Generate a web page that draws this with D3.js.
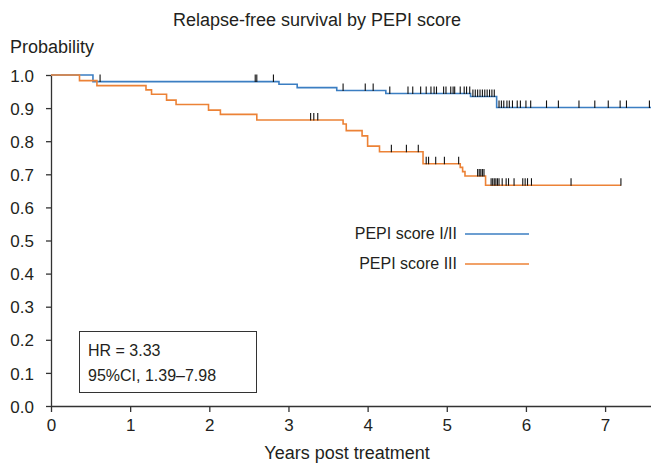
<!DOCTYPE html>
<html>
<head>
<meta charset="utf-8">
<script src="https://cdn.jsdelivr.net/npm/d3@7"></script>
<style>
  body { margin: 0; background: #fff; }
  #screen text { font-family: "Liberation Sans", Arial, sans-serif; fill: #231f20; }
</style>
</head>
<body>
<div id="screen"></div>
<script>
// KM curves: event times (years) and survival after each step
const groupNames = ["PEPI score I/II", "PEPI score III"];
const groupColors = ["#3b7ec2", "#ec8236"];

const blueTimes = [0, 0.53, 2.88, 3.11, 3.61, 4.23, 5.30, 5.63, 7.58];
const blueSurv  = [1, 0.980, 0.972, 0.962, 0.953, 0.944, 0.935, 0.902, 0.902];
const blueCensor = [0.62, 2.58, 2.60, 2.81, 3.69, 3.97, 4.07, 4.28, 4.51, 4.57, 4.67, 4.74, 4.80,
    4.84, 4.87, 4.96, 4.99, 5.05, 5.08, 5.10, 5.17, 5.22, 5.25, 5.29, 5.33, 5.36, 5.39, 5.42,
    5.45, 5.48, 5.51, 5.54, 5.57, 5.60, 5.66, 5.69, 5.72, 5.76, 5.79, 5.83, 5.89, 5.93, 6.00,
    6.06, 6.26, 6.41, 6.67, 6.87, 7.04, 7.19, 7.27, 7.56];

const orangeTimes = [0, 0.36, 0.58, 1.20, 1.27, 1.46, 1.58, 1.99, 2.14, 2.60, 3.69, 3.73, 3.93,
    4.00, 4.15, 4.70, 5.17, 5.20, 5.23, 5.49, 7.20];
const orangeSurv  = [1, 0.983, 0.968, 0.955, 0.942, 0.924, 0.911, 0.894, 0.881, 0.864, 0.852,
    0.832, 0.816, 0.785, 0.768, 0.732, 0.721, 0.708, 0.695, 0.667, 0.667];
const orangeCensor = [3.28, 3.32, 3.37, 4.30, 4.49, 4.64, 4.74, 4.77, 4.86, 4.97, 5.15, 5.39,
    5.41, 5.43, 5.45, 5.47, 5.56, 5.58, 5.60, 5.62, 5.64, 5.66, 5.70, 5.75, 5.78, 5.85, 5.96,
    5.99, 6.02, 6.07, 6.57, 7.20];

const xTicks = [0, 1, 2, 3, 4, 5, 6, 7];
const yTicks = [0, 0.1, 0.2, 0.3, 0.4, 0.5, 0.6, 0.7, 0.8, 0.9, 1.0];

const chartTitle = "Relapse-free survival by PEPI score";
const yTitle = "Probability";
const xTitle = "Years post treatment";
const hrLines = ["HR = 3.33", "95%CI, 1.39\u20137.98"];

const W = 651, H = 463;
const svg = d3.select("#screen").append("svg").attr("width", W).attr("height", H);

const x = d3.scaleLinear().domain([0, 7.58]).range([51, 651]);
const y = d3.scaleLinear().domain([0, 1]).range([406, 75]);

// axes
const xAxis = svg.append("g")
    .attr("transform", "translate(0," + y(0) + ")")
    .call(d3.axisBottom(x).tickValues(xTicks).tickSize(6).tickSizeOuter(0).tickPadding(4));
const yAxis = svg.append("g")
    .attr("transform", "translate(" + x(0) + ",0)")
    .call(d3.axisLeft(y).tickValues(yTicks).tickFormat(d3.format(".1f")).tickSize(5).tickSizeOuter(0).tickPadding(12));

[xAxis, yAxis].forEach(a => {
    a.select(".domain").attr("stroke", "#333").attr("stroke-width", 1.3);
    a.selectAll(".tick line").attr("stroke", "#333").attr("stroke-width", 1.3);
    a.selectAll(".tick text").style("font-size", "17px");
});
yAxis.selectAll(".tick text").attr("dy", "0.36em");
xAxis.selectAll(".tick text").attr("dy", "0.9em");

// curves
const line = d3.line().x(d => x(d[0])).y(d => y(d[1])).curve(d3.curveStepAfter);

const series = [
    {times: blueTimes, surv: blueSurv, censor: blueCensor, color: groupColors[0]},
    {times: orangeTimes, surv: orangeSurv, censor: orangeCensor, color: groupColors[1]}
];

const survAt = function(s, t) {
    var v = s.surv[0];
    s.times.forEach((tt, i) => { if (tt <= t) v = s.surv[i]; });
    return v;
};

series.forEach(s => {
    svg.append("path")
        .datum(s.times.map((t, i) => [t, s.surv[i]]))
        .attr("d", line)
        .attr("fill", "none")
        .attr("stroke", s.color)
        .attr("stroke-width", 1.6);
});

series.forEach(s => {
    svg.append("g").selectAll("line")
        .data(s.censor)
        .join("line")
        .attr("x1", d => x(d)).attr("x2", d => x(d))
        .attr("y1", d => y(survAt(s, d)) - 7)
        .attr("y2", d => y(survAt(s, d)) + 0.5)
        .attr("stroke", "#111")
        .attr("stroke-width", 1.1);
});

// titles
svg.append("text").attr("x", 317).attr("y", 26).attr("text-anchor", "middle")
    .style("font-size", "18px").text(chartTitle);
svg.append("text").attr("x", 10).attr("y", 53).style("font-size", "18px").text(yTitle);
svg.append("text").attr("x", 347).attr("y", 459).attr("text-anchor", "middle")
    .style("font-size", "18px").text(xTitle);

// legend
const legendY = [234, 264];
groupNames.forEach((name, i) => {
    svg.append("text").attr("x", 457).attr("y", legendY[i] + 5).attr("text-anchor", "end")
        .style("font-size", "16px").text(name);
    svg.append("line")
        .attr("x1", 465).attr("x2", 529)
        .attr("y1", legendY[i]).attr("y2", legendY[i])
        .attr("stroke", groupColors[i]).attr("stroke-width", 1.5);
});

// hazard ratio box
svg.append("rect").attr("x", 79.5).attr("y", 331.5).attr("width", 177).attr("height", 61)
    .attr("fill", "none").attr("stroke", "#333").attr("stroke-width", 1);
hrLines.forEach((t, i) => {
    svg.append("text").attr("x", 88).attr("y", 356 + i * 25).style("font-size", "16px").text(t);
});
</script>
</body>
</html>
